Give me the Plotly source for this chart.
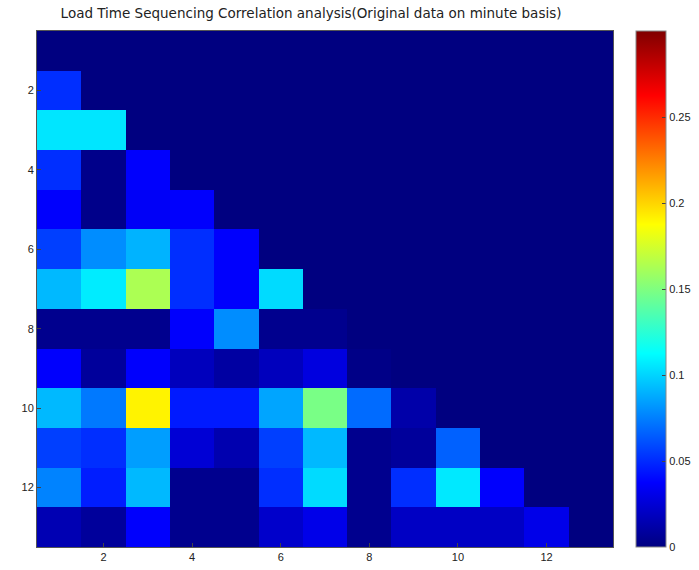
import plotly.graph_objects as go

x_idx = list(range(1, 14))
y_idx = list(range(1, 14))

# correlation values, row i = y index, columns 1..13 (lower triangular)
row1 = [0, 0, 0, 0, 0, 0, 0, 0, 0, 0, 0, 0, 0]
row2 = [0.051, 0, 0, 0, 0, 0, 0, 0, 0, 0, 0, 0, 0]
row3 = [0.105, 0.105, 0, 0, 0, 0, 0, 0, 0, 0, 0, 0, 0]
row4 = [0.051, 0.003, 0.037, 0, 0, 0, 0, 0, 0, 0, 0, 0, 0]
row5 = [0.037, 0.003, 0.035, 0.037, 0, 0, 0, 0, 0, 0, 0, 0, 0]
row6 = [0.056, 0.079, 0.090, 0.051, 0.037, 0, 0, 0, 0, 0, 0, 0, 0]
row7 = [0.092, 0.107, 0.163, 0.051, 0.037, 0.102, 0, 0, 0, 0, 0, 0, 0]
row8 = [0.004, 0.004, 0.004, 0.037, 0.079, 0.004, 0.004, 0, 0, 0, 0, 0, 0]
row9 = [0.037, 0.008, 0.037, 0.018, 0.010, 0.018, 0.028, 0.002, 0, 0, 0, 0, 0]
row10 = [0.092, 0.073, 0.191, 0.045, 0.045, 0.086, 0.148, 0.069, 0.012, 0, 0, 0, 0]
row11 = [0.056, 0.051, 0.084, 0.025, 0.014, 0.056, 0.092, 0.004, 0.008, 0.066, 0, 0, 0]
row12 = [0.076, 0.046, 0.092, 0.004, 0.004, 0.051, 0.102, 0.004, 0.051, 0.106, 0.037, 0, 0]
row13 = [0.015, 0.008, 0.037, 0.004, 0.004, 0.022, 0.031, 0.004, 0.020, 0.020, 0.020, 0.031, 0]

z = [row1, row2, row3, row4, row5, row6, row7, row8, row9, row10, row11, row12, row13]

tick_vals = [2, 4, 6, 8, 10, 12]
cbar_ticks = [0, 0.05, 0.1, 0.15, 0.2, 0.25]
cbar_labels = ["0", "0.05", "0.1", "0.15", "0.2", "0.25"]

# MATLAB-style jet colormap
jet = [
    [0.0, "rgb(0,0,128)"],
    [0.125, "rgb(0,0,255)"],
    [0.375, "rgb(0,255,255)"],
    [0.625, "rgb(255,255,0)"],
    [0.875, "rgb(255,0,0)"],
    [1.0, "rgb(128,0,0)"],
]

fig = go.Figure(go.Heatmap(
    z=z, x=x_idx, y=y_idx,
    colorscale=jet, zmin=0, zmax=0.30,
    colorbar=dict(
        x=1.04, xanchor="left", xref="paper", xpad=0, ypad=0,
        y=0.5, yanchor="middle", len=1.0, lenmode="fraction",
        thickness=30, outlinewidth=1, outlinecolor="#888",
        tickvals=cbar_ticks, ticktext=cbar_labels,
        ticks="inside", ticklen=4, tickcolor="#444",
        tickfont=dict(family="Liberation Sans, Arial", size=11, color="#222"),
    ),
))

fig.update_layout(
    width=699, height=570,
    margin=dict(l=37, r=86, t=31, b=23, autoexpand=False),
    paper_bgcolor="white", plot_bgcolor="white",
    title=dict(
        text="Load Time Sequencing Correlation analysis(Original data on minute basis)",
        x=0.445, xanchor="center", y=0.985, yanchor="top",
        font=dict(family="DejaVu Sans", size=13.5, color="#222"),
    ),
    font=dict(family="Liberation Sans, Arial", size=11, color="#222"),
)
fig.update_xaxes(
    range=[0.5, 13.5], tickvals=tick_vals, ticks="inside", ticklen=4,
    showline=True, linecolor="#555", mirror=True, showgrid=False, zeroline=False,
)
fig.update_yaxes(
    range=[13.5, 0.5], tickvals=tick_vals, ticks="inside", ticklen=4,
    showline=True, linecolor="#555", mirror=True, showgrid=False, zeroline=False,
)

fig.write_html("out.html")
